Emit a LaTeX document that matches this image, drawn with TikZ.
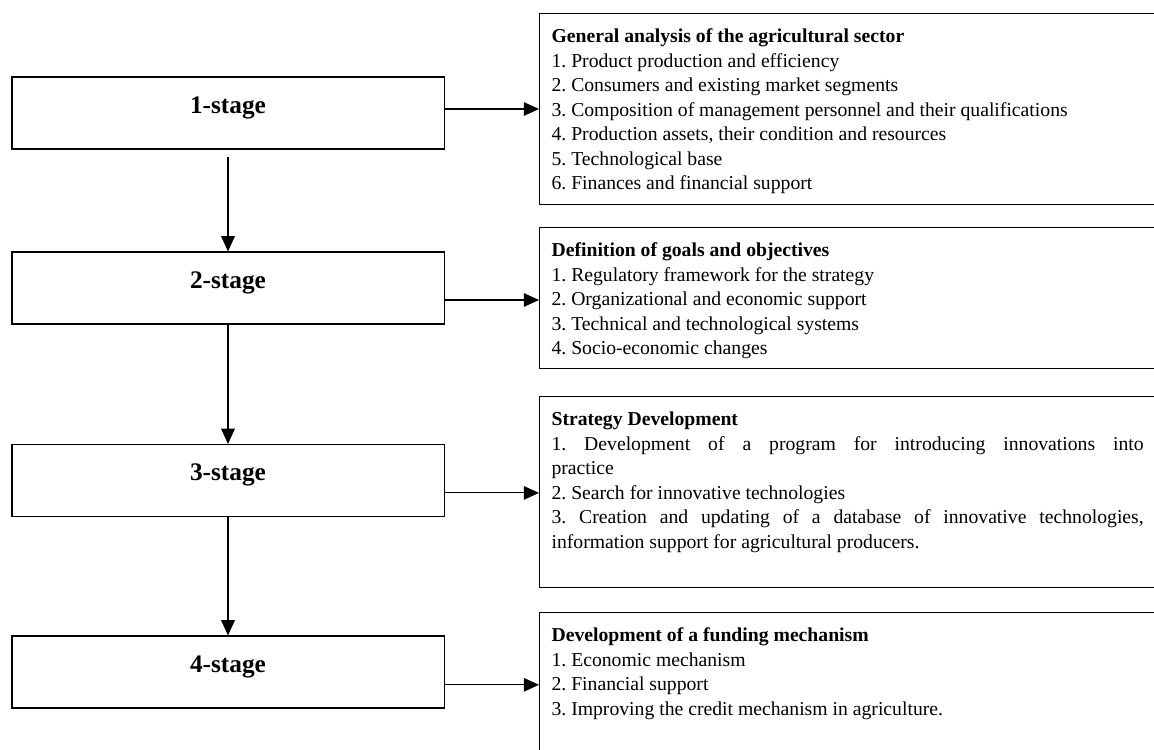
\documentclass[tikz,border=0pt]{standalone}
\usepackage{fontspec}
\setmainfont{Liberation Serif}
\usetikzlibrary{arrows.meta}
\frenchspacing
\newcommand{\boxtext}[2]{\parbox[c][#1][t]{15.4cm}{\rightskip=0.6cm\fontsize{14pt}{17.4pt}\selectfont\vspace*{0.3cm}\strut #2}}

\begin{document}
\begin{tikzpicture}[x=0.025cm,y=-0.025cm]
	\tikzstyle{every node}=[draw,shape=rectangle,line width=0.8pt];
	\tikzstyle{stage}=[minimum width=10.8cm,minimum height=1.8cm,font=\fontsize{18pt}{20pt}\selectfont\bfseries,text height=0.5em,text depth=0.5em];
	\tikzstyle{info}=[anchor=north west,inner xsep=0.3cm,inner ysep=0pt];
	\tikzstyle{arr}=[line width=0.8pt,-{Triangle[length=0.38cm,width=0.34cm]}];
	\useasboundingbox (0,0) rectangle (1154,749);
	% stages
	\node[stage] (s1) at (228,113) {1-stage};
	\node[stage] (s2) at (228,288) {2-stage};
	\node[stage] (s3) at (228,480.5) {3-stage};
	\node[stage] (s4) at (228,672) {4-stage};
	% descriptions
	\node[info] (d1) at (539,13) {\boxtext{4.775cm}{\textbf{General analysis of the agricultural sector}\\
		1. Product production and efficiency\\
		2. Consumers and existing market segments\\
		3. Composition of management personnel and their qualifications\\
		4. Production assets, their condition and resources\\
		5. Technological base\\
		6. Finances and financial support}};
	\node[info] (d2) at (539,227) {\boxtext{3.525cm}{\textbf{Definition of goals and objectives}\\
		1. Regulatory framework for the strategy\\
		2. Organizational and economic support\\
		3. Technical and technological systems\\
		4. Socio-economic changes}};
	\node[info] (d3) at (539,396) {\boxtext{4.775cm}{\textbf{Strategy Development}\\
		1. Development of a program for introducing innovations into\linebreak practice\\
		2. Search for innovative technologies\\
		3. Creation and updating of a database of innovative technologies,\linebreak information support for agricultural producers.}};
	\node[info] (d4) at (539,612) {\boxtext{4.7cm}{\textbf{Development of a funding mechanism}\\
		1. Economic mechanism\\
		2. Financial support\\
		3. Improving the credit mechanism in agriculture.}};
	% arrows
	\draw[arr] ([yshift=-0.175cm]s1.south) -- (s2.north);
	\draw[arr] (s2.south) -- (s3.north);
	\draw[arr] (s3.south) -- (s4.north);
	\draw[arr] ([yshift=0.1cm]s1.east) -- ([yshift=0.1cm]s1.east -| d1.west);
	\draw[arr] ([yshift=-0.3cm]s2.east) -- ([yshift=-0.3cm]s2.east -| d2.west);
	\draw[arr] ([yshift=-0.31cm]s3.east) -- ([yshift=-0.31cm]s3.east -| d3.west);
	\draw[arr] ([yshift=-0.32cm]s4.east) -- ([yshift=-0.32cm]s4.east -| d4.west);
\end{tikzpicture}
\end{document}
